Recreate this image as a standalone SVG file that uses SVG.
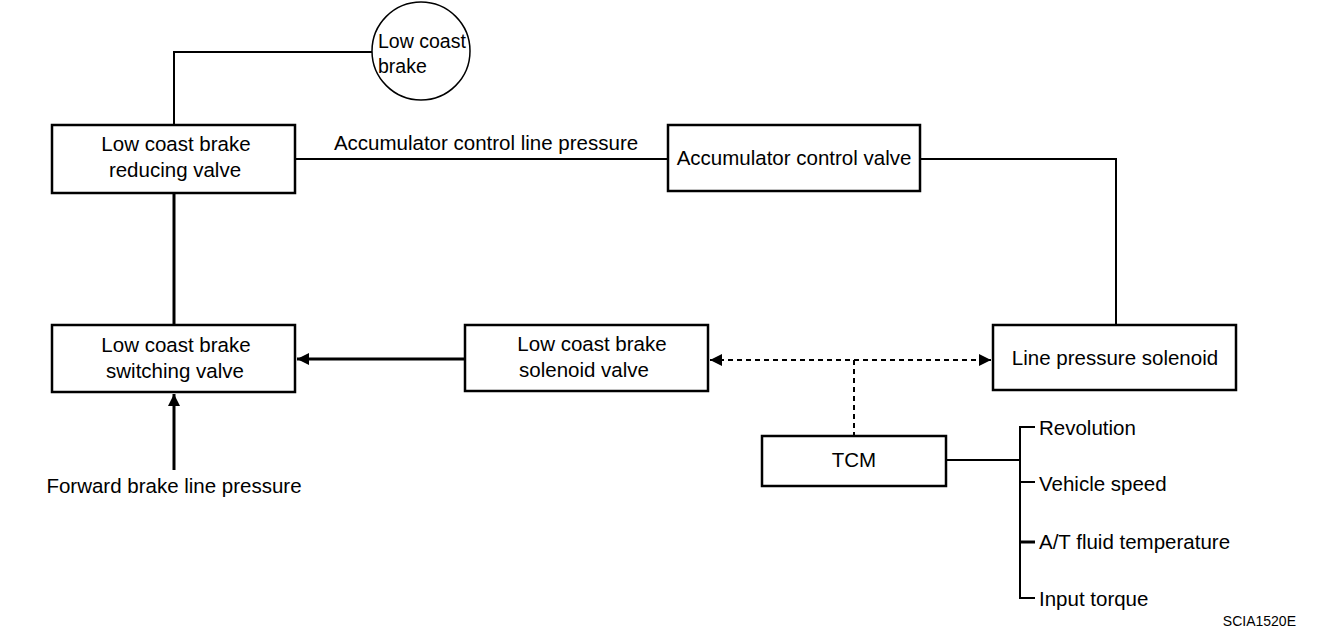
<svg xmlns="http://www.w3.org/2000/svg" width="1328" height="628" viewBox="0 0 1328 628">
<style>
  .box{fill:#fff;stroke:#000;stroke-width:2.5}
  .ln{fill:none;stroke:#000;stroke-width:2}
  .thick{fill:none;stroke:#000;stroke-width:3}
  .dash{fill:none;stroke:#000;stroke-width:2;stroke-dasharray:5 4}
  text{font-family:"Liberation Sans",Arial,sans-serif;font-size:20.5px;fill:#000}
  .c{text-anchor:middle}
  .small{font-size:14px}
</style>
<defs>
  <marker id="ah" markerWidth="12" markerHeight="12" refX="12" refY="6" orient="auto" markerUnits="userSpaceOnUse">
    <path d="M0,0 L12,6 L0,12 Z" fill="#000"/>
  </marker>
  <marker id="ahs" markerWidth="12" markerHeight="12" refX="0" refY="6" orient="auto" markerUnits="userSpaceOnUse">
    <path d="M12,0 L0,6 L12,12 Z" fill="#000"/>
  </marker>
</defs>
<rect width="1328" height="628" fill="#fff"/>
<g id="connectors">
  <polyline class="ln" points="174,125 174,52 372,52"/>
  <line class="ln" x1="295" y1="159" x2="668" y2="159"/>
  <polyline class="ln" points="920,159 1116,159 1116,325"/>
  <line class="thick" x1="174" y1="193" x2="174" y2="325"/>
  <line class="thick" x1="465" y1="359" x2="297" y2="359" marker-end="url(#ah)"/>
  <line class="thick" x1="174" y1="470" x2="174" y2="394" marker-end="url(#ah)"/>
  <line class="dash" x1="710" y1="360" x2="991" y2="360" marker-start="url(#ahs)" marker-end="url(#ah)"/>
  <line class="dash" x1="854" y1="360" x2="854" y2="436"/>
  <line class="ln" x1="946" y1="460" x2="1020" y2="460"/>
  <polyline class="ln" points="1035,427 1020,427 1020,598 1035,598"/>
  <line class="ln" x1="1020" y1="482" x2="1035" y2="482"/>
  <line class="thick" x1="1020" y1="542" x2="1035" y2="542"/>
  <text x="486" y="150" class="c">Accumulator control line pressure</text>
  <text x="174" y="493" class="c">Forward brake line pressure</text>
</g>
<g id="low-coast-brake">
  <circle cx="421" cy="51" r="49" fill="#fff" stroke="#000" stroke-width="1.5"/>
  <text x="378" y="48" style="font-size:19.5px">Low coast</text>
  <text x="378" y="73" style="font-size:19.5px">brake</text>
</g>
<g id="reducing-valve">
  <rect class="box" x="52" y="125" width="243" height="68"/>
  <text x="176" y="151" class="c">Low coast brake</text>
  <text x="175" y="177" class="c">reducing valve</text>
</g>
<g id="accumulator-control-valve">
  <rect class="box" x="668" y="125" width="252" height="66"/>
  <text x="794" y="165" class="c">Accumulator control valve</text>
</g>
<g id="switching-valve">
  <rect class="box" x="52" y="325" width="243" height="67"/>
  <text x="176" y="352" class="c">Low coast brake</text>
  <text x="175" y="378" class="c">switching valve</text>
</g>
<g id="solenoid-valve">
  <rect class="box" x="465" y="325" width="243" height="66"/>
  <text x="592" y="351" class="c">Low coast brake</text>
  <text x="584" y="377" class="c">solenoid valve</text>
</g>
<g id="line-pressure-solenoid">
  <rect class="box" x="993" y="325" width="243" height="65"/>
  <text x="1115" y="365" class="c">Line pressure solenoid</text>
</g>
<g id="tcm">
  <rect class="box" x="762" y="436" width="184" height="50"/>
  <text x="854" y="467" class="c">TCM</text>
</g>
<g id="inputs">
  <text x="1039" y="435">Revolution</text>
  <text x="1039" y="491">Vehicle speed</text>
  <text x="1039" y="549">A/T fluid temperature</text>
  <text x="1039" y="606">Input torque</text>
</g>
<text x="1296" y="626" class="small" text-anchor="end">SCIA1520E</text>
</svg>
